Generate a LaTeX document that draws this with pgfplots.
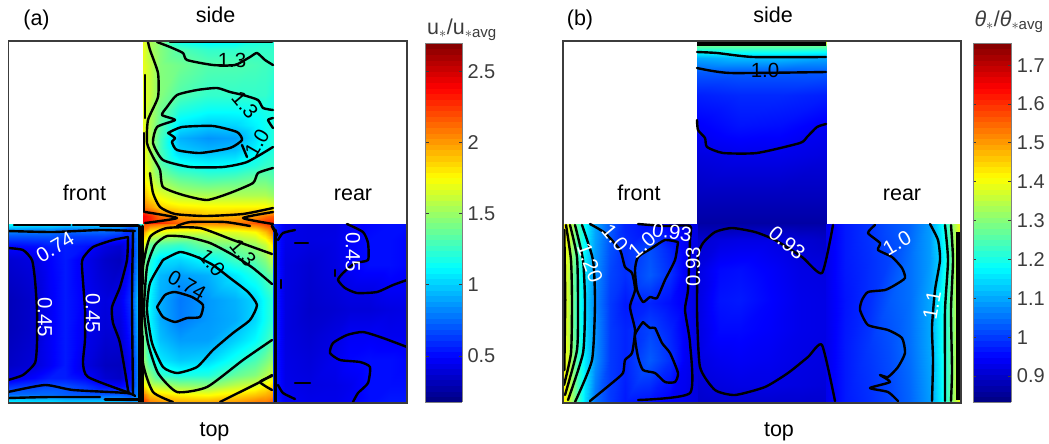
\documentclass[border=0pt]{standalone}
\usepackage{fontspec}
\setmainfont{Liberation Sans}
\usepackage{pgfplots}
\pgfplotsset{compat=1.18}
\definecolor{fr}{HTML}{3C3C3C}
\newcommand\fs{\fontsize{20}{24}\selectfont}
\newcommand\fl{\fontsize{21.5}{24}\selectfont}
\newcommand\lab[5]{\node[text=#1,rotate=#4,inner sep=0pt] at (#2pt,-#3pt) {\fontsize{20.5}{24}\selectfont #5};}
\newcommand\nam[3]{\node[inner sep=0pt] at (#1pt,-#2pt) {\fl\strut #3};}
\pgfplotsset{
 panel/.style={scale only axis,y dir=reverse,colormap/jet,xtick=\empty,ytick=\empty,axis on top,
   axis line style={fr,line width=1.5pt},clip=true,ymin=41,ymax=403,height=362pt,colorbar,
   colorbar sampled,
   every colorbar/.append style={samples=65}},
 grd/.style={surf,shader=interp,point meta=explicit,mesh/ordering=x varies,mesh/cols=#1},
 ct/.style={black,line width=2.4pt,smooth,tension=.35,line cap=round,line join=round,no markers},
 ctw/.style={black,line width=3pt,line cap=round,no markers},
 /pgfplots/table/tb/.style={row sep=crcr,header=false,x index=0,y index=1,meta index=2},
}
\begin{document}
\begin{tikzpicture}
\useasboundingbox (0,-444pt) rectangle (1049pt,0);
\begin{axis}[panel,at={(8.5pt,-403pt)},anchor=south west,width=398.5pt,xmin=8.5,xmax=407,
  point meta min=0.176,point meta max=2.70,
  colorbar style={at={(1.0452,0.9945)},anchor=north west,width=37pt,height=359pt,scale only axis,
   ytick={0.5,1,1.5,2,2.5},yticklabels={0.5,1,1.5,2,2.5},
   yticklabel style={font=\fs,text=fr,xshift=2pt},ytick style={fr,line width=.7pt},tick align=inside,major tick length=3.5pt,
   axis line style={gray,line width=.8pt}}]
% side
\addplot[grd=9] table[tb]{
143 41 1.7\\150 41 1.55\\160 41 1.45\\180 41 1.15\\208 41 1.08\\235 41 1.1\\255 41 1.18\\265 41 1.2\\273 41 1.2\\
143 50 1.7\\150 50 1.55\\160 50 1.45\\180 50 1.32\\208 50 1.25\\235 50 1.25\\255 50 1.25\\265 50 1.25\\273 50 1.25\\
143 65 1.7\\150 65 1.6\\160 65 1.45\\180 65 1.4\\208 65 1.33\\235 65 1.32\\255 65 1.3\\265 65 1.28\\273 65 1.25\\
143 95 1.7\\150 95 1.6\\160 95 1.45\\180 95 1.32\\208 95 1.25\\235 95 1.25\\255 95 1.25\\265 95 1.25\\273 95 1.2\\
143 110 1.7\\150 110 1.55\\160 110 1.4\\180 110 1.2\\208 110 1.14\\235 110 1.14\\255 110 1.16\\265 110 1.18\\273 110 1.2\\
143 125 1.7\\150 125 1.55\\160 125 1.35\\180 125 1.07\\208 125 1\\235 125 1.02\\255 125 1.1\\265 125 1.15\\273 125 1.2\\
143 138 1.75\\150 138 1.55\\160 138 1.3\\180 138 .93\\208 138 .86\\235 138 .89\\255 138 1.05\\265 138 1.15\\273 138 1.2\\
143 150 1.75\\150 150 1.55\\160 150 1.3\\180 150 1\\208 150 .94\\235 150 .97\\255 150 1.1\\265 150 1.15\\273 150 1.2\\
143 165 1.75\\150 165 1.6\\160 165 1.35\\180 165 1.17\\208 165 1.12\\235 165 1.13\\255 165 1.2\\265 165 1.25\\273 165 1.25\\
143 180 1.8\\150 180 1.65\\160 180 1.5\\180 180 1.38\\208 180 1.32\\235 180 1.35\\255 180 1.4\\265 180 1.4\\273 180 1.35\\
143 195 1.95\\150 195 1.8\\160 195 1.7\\180 195 1.58\\208 195 1.55\\235 195 1.55\\255 195 1.55\\265 195 1.55\\273 195 1.5\\
143 207 2.1\\150 207 2\\160 207 1.87\\180 207 1.8\\208 207 1.77\\235 207 1.77\\255 207 1.77\\265 207 1.77\\273 207 1.72\\
143 216 2.4\\150 216 2.3\\160 216 2.1\\180 216 1.98\\208 216 1.9\\235 216 1.95\\255 216 2\\265 216 2.1\\273 216 2.15\\
143 224 2.4\\150 224 2.35\\160 224 2.3\\180 224 2.15\\208 224 2.05\\235 224 2.1\\255 224 2.2\\265 224 2.3\\273 224 2.3\\
};
% top centre
\addplot[grd=9] table[tb]{
143 224 2.2\\150 224 2.15\\160 224 2.1\\180 224 2.03\\208 224 2\\235 224 2.03\\255 224 2.1\\265 224 2.2\\273 224 2.3\\
143 232 2\\150 232 1.75\\160 232 1.7\\180 232 1.65\\208 232 1.65\\235 232 1.68\\255 232 1.75\\265 232 1.9\\273 232 2.1\\
143 245 1.7\\150 245 1.35\\160 245 1.3\\180 245 1.25\\208 245 1.4\\235 245 1.43\\255 245 1.5\\265 245 1.6\\273 245 1.8\\
143 260 1.5\\150 260 1.2\\160 260 1.05\\180 260 1.02\\208 260 1.12\\235 260 1.27\\255 260 1.35\\265 260 1.45\\273 260 1.6\\
143 275 1.45\\150 275 1.15\\160 275 .95\\180 275 .88\\208 275 .93\\235 275 1.07\\255 275 1.2\\265 275 1.3\\273 275 1.4\\
143 300 1.4\\150 300 1.1\\160 300 .92\\180 300 .79\\208 300 .87\\235 300 .93\\255 300 1.02\\265 300 1.15\\273 300 1.25\\
143 320 1.4\\150 320 1.1\\160 320 .92\\180 320 .8\\208 320 .87\\235 320 .92\\255 320 1.03\\265 320 1.15\\273 320 1.25\\
143 340 1.45\\150 340 1.15\\160 340 .97\\180 340 .88\\208 340 .89\\235 340 1.01\\255 340 1.12\\265 340 1.22\\273 340 1.35\\
143 360 1.5\\150 360 1.25\\160 360 1.07\\180 360 .99\\208 360 1.02\\235 360 1.17\\255 360 1.3\\265 360 1.4\\273 360 1.5\\
143 375 1.6\\150 375 1.45\\160 375 1.25\\180 375 1.18\\208 375 1.2\\235 375 1.37\\255 375 1.45\\265 375 1.55\\273 375 1.65\\
143 385 1.8\\150 385 1.6\\160 385 1.55\\180 385 1.47\\208 385 1.45\\235 385 1.58\\255 385 1.65\\265 385 1.75\\273 385 1.85\\
143 395 2.1\\150 395 1.9\\160 395 1.85\\180 395 1.78\\208 395 1.75\\235 395 1.83\\255 395 1.9\\265 395 1.95\\273 395 2\\
143 403 2.3\\150 403 2.1\\160 403 2.05\\180 403 2\\208 403 2\\235 403 2.03\\255 403 2.1\\265 403 2.1\\273 403 2.2\\
};
% front
\addplot[grd=10] table[tb]{
8 224 1.15\\35 224 1.1\\50 224 1.1\\65 224 1.05\\85 224 1.05\\105 224 1.05\\120 224 1\\130 224 .9\\137 224 .9\\143 224 1.3\\
8 229 .9\\35 229 .85\\50 229 .85\\65 229 .8\\85 229 .8\\105 229 .8\\120 229 .75\\130 229 .6\\137 229 .8\\143 229 1.3\\
8 236 .7\\35 236 .7\\50 236 .7\\65 236 .65\\85 236 .65\\105 236 .65\\120 236 .6\\130 236 .6\\137 236 .8\\143 236 1.3\\
8 246 .5\\35 246 .52\\50 246 .56\\65 246 .56\\85 246 .53\\105 246 .42\\120 246 .38\\130 246 .52\\137 246 .8\\143 246 1.3\\
8 260 .38\\35 260 .42\\50 260 .49\\65 260 .55\\85 260 .45\\105 260 .36\\120 260 .33\\130 260 .5\\137 260 .82\\143 260 1.3\\
8 300 .32\\35 300 .37\\50 300 .47\\65 300 .55\\85 300 .47\\105 300 .41\\120 300 .45\\130 300 .6\\137 300 .95\\143 300 1.45\\
8 330 .32\\35 330 .37\\50 330 .47\\65 330 .55\\85 330 .45\\105 330 .39\\120 330 .4\\130 330 .55\\137 330 .9\\143 330 1.4\\
8 365 .35\\35 365 .4\\50 365 .47\\65 365 .55\\85 365 .42\\105 365 .34\\120 365 .33\\130 365 .48\\137 365 .8\\143 365 1.3\\
8 378 .42\\35 378 .5\\50 378 .56\\65 378 .56\\85 378 .5\\105 378 .38\\120 378 .35\\130 378 .5\\137 378 .8\\143 378 1.3\\
8 386 .6\\35 386 .65\\50 386 .68\\65 386 .68\\85 386 .62\\105 386 .52\\120 386 .5\\130 386 .55\\137 386 .8\\143 386 1.3\\
8 394 .75\\35 394 .75\\50 394 .75\\65 394 .72\\85 394 .7\\105 394 .7\\120 394 .7\\130 394 .65\\137 394 .8\\143 394 1.3\\
8 403 1.15\\35 403 1.1\\50 403 1.1\\65 403 1.05\\85 403 1.05\\105 403 1.05\\120 403 1\\130 403 .9\\137 403 .9\\143 403 1.3\\
};
% rear
\addplot[grd=8] table[tb]{
273 224 .6\\285 224 .45\\310 224 .42\\335 224 .42\\350 224 .47\\370 224 .5\\390 224 .52\\407 224 .52\\
273 240 .6\\285 240 .44\\310 240 .42\\335 240 .43\\350 240 .48\\370 240 .52\\390 240 .52\\407 240 .5\\
273 265 .6\\285 265 .42\\310 265 .38\\335 265 .42\\350 265 .48\\370 265 .52\\390 265 .52\\407 265 .5\\
273 290 .62\\285 290 .42\\310 290 .37\\335 290 .4\\350 290 .43\\370 290 .43\\390 290 .47\\407 290 .47\\
273 310 .62\\285 310 .42\\310 310 .36\\335 310 .38\\350 310 .4\\370 310 .4\\390 310 .42\\407 310 .43\\
273 335 .62\\285 335 .42\\310 335 .38\\335 335 .42\\350 335 .47\\370 335 .47\\390 335 .45\\407 335 .45\\
273 360 .6\\285 360 .43\\310 360 .4\\335 360 .45\\350 360 .5\\370 360 .52\\390 360 .52\\407 360 .5\\
273 385 .6\\285 385 .44\\310 385 .42\\335 385 .43\\350 385 .45\\370 385 .52\\390 385 .52\\407 385 .52\\
273 403 .6\\285 403 .47\\310 403 .44\\335 403 .44\\350 403 .47\\370 403 .52\\390 403 .55\\407 403 .55\\
};
% contours side
\addplot[ct] coordinates {(157,42)(170,47)(183,53)(187,60)(213,65)(235,65)(250,57)(257,53)(265,60)(273,65)};
\addplot[ct] coordinates {(170,42)(272,42)};
\addplot[ct] coordinates {(273,110)(263,108)(258,100)(243,95)(230,92)(217,88)(197,90)(177,95)(167,107)(162,115)(175,120)(157,127)(153,143)(163,160)(190,167)(223,167)(247,162)(273,147)};
\addplot[ct] coordinates {(273,128)(268,120)(273,118)};
\addplot[ct] coordinates {(168,133)(182,127)(213,126)(237,132)(242,140)(230,148)(200,153)(177,150)(172,142)(175,138)(168,133)};
\addplot[ct] coordinates {(242,145)(247,157)};
\addplot[ct] coordinates {(148,42)(150,50)(158,73)(158,97)(148,120)(147,143)(153,157)(160,170)(163,187)(183,195)(207,200)(230,193)(253,183)(258,173)(273,168)};
\addplot[ct] coordinates {(145,75)(145,118)};
\addplot[ct] coordinates {(144,133)(144,212)};
\addplot[ct] coordinates {(150,173)(153,193)(160,207)(175,214)(205,216)(243,214)(273,208)};
\addplot[ct] coordinates {(145,212)(177,218)(145,223)};
\addplot[ct] coordinates {(273,212)(243,218)(273,224)};
\addplot[ct] coordinates {(177,226)(190,222)(225,222)(250,226)};
% contours centre
\addplot[ct] coordinates {(157,307)(165,295)(175,292)(192,297)(203,305)(200,317)(187,318)(175,322)(163,317)(157,307)};
\addplot[ct] coordinates {(163,260)(180,252)(197,257)(213,265)(230,278)(248,292)(257,305)(250,320)(233,333)(213,350)(197,367)(177,373)(163,367)(152,343)(147,310)(150,283)(163,260)};
\addplot[ct] coordinates {(272,284)(253,268)(233,255)(210,243)(187,237)(167,236)(155,245)(147,267)(144,310)(148,343)(158,373)(177,392)(207,387)(243,360)(272,340)};
\addplot[ct] coordinates {(272,254)(233,240)(200,228)(167,228)(150,237)(143,267)(142,310)(143,363)(153,392)(173,402)};
\addplot[ct] coordinates {(272,375)(260,382)(230,397)(220,402)};
\addplot[ct] coordinates {(272,376)(260,382)(272,390)};
\addplot[ctw] coordinates {(275,230)(275,402)};
\addplot[ctw] coordinates {(272,226)(277,235)};
\addplot[ctw] coordinates {(139,226)(139,402)};
\addplot[ctw] coordinates {(142,226)(142,284)};
\addplot[ctw] coordinates {(142,336)(142,402)};
% contours front
\addplot[ct] coordinates {(8,248)(23,250)(32,260)(35,280)(37,310)(37,343)(35,363)(23,375)(8,380)};
\addplot[ct] coordinates {(128,237)(113,240)(93,247)(83,258)(82,267)(85,310)(85,340)(83,363)(88,377)(127,392)(128,390)(120,343)(113,323)(112,307)(120,287)(127,260)(128,237)};
\addplot[ct] coordinates {(8,231)(53,232)(100,230)(135,231)};
\addplot[ct] coordinates {(8,392)(45,385)(73,390)(127,393)(135,396)};
\addplot[ct] coordinates {(14,225)(70,225)};
\addplot[ct] coordinates {(73,225)(107,225)};
\addplot[ct] coordinates {(8,398)(50,397)(100,397)};
\addplot[ct] coordinates {(133,232)(132,300)(133,395)};
\addplot[ctw] coordinates {(100,225.5)(138,225.5)};
\addplot[ctw] coordinates {(105,399.5)(138,399.5)};
% contours rear
\addplot[ct] coordinates {(347,224)(363,232)(368,243)(368,260)(355,263)(343,273)(338,280)(345,288)(357,293)(377,292)(393,285)(407,280)};
\addplot[ct] coordinates {(407,347)(383,338)(363,332)(347,335)(333,343)(330,353)(340,360)(360,362)(370,367)(368,383)(358,393)(353,402)};
\addplot[ct] coordinates {(278,240)(283,233)(295,230)};
\addplot[ct] coordinates {(278,385)(283,393)(295,399)};
\addplot[ct] coordinates {(295,243)(308,243)};
\addplot[ct] coordinates {(335,270)(335,276)};
\addplot[ct] coordinates {(281,280)(281,288)};
\addplot[ct] coordinates {(295,383)(310,383)};
\end{axis}
\begin{axis}[panel,at={(563pt,-403pt)},anchor=south west,width=398pt,xmin=563,xmax=961,
  point meta min=0.833,point meta max=1.757,
  colorbar style={at={(1.03,0.9945)},anchor=north west,width=38.5pt,height=359pt,scale only axis,
   ytick={0.9,1,1.1,1.2,1.3,1.4,1.5,1.6,1.7},yticklabels={0.9,1,1.1,1.2,1.3,1.4,1.5,1.6,1.7},
   yticklabel style={font=\fs,text=fr,xshift=2pt},ytick style={fr,line width=.7pt},tick align=inside,major tick length=3.5pt,
   axis line style={gray,line width=.8pt}}]
% side
\addplot[grd=4] table[tb]{
697 41 1.42\\740 41 1.42\\780 41 1.42\\826 41 1.42\\
697 46 1.27\\740 46 1.27\\780 46 1.27\\826 46 1.27\\
697 52 1.18\\740 52 1.19\\780 52 1.19\\826 52 1.18\\
697 58 1.1\\740 58 1.12\\780 58 1.12\\826 58 1.1\\
697 72 1.03\\740 72 1.03\\780 72 1.03\\826 72 1.03\\
697 95 .975\\740 95 .985\\780 95 .985\\826 95 .975\\
697 125 .945\\740 125 .965\\780 125 .96\\826 125 .94\\
697 155 .92\\740 155 .93\\780 155 .93\\826 155 .92\\
697 195 .89\\740 195 .89\\780 195 .89\\826 195 .89\\
697 224 .865\\740 224 .865\\780 224 .865\\826 224 .865\\
};
% centre
\addplot[grd=6] table[tb]{
697 224 .87\\720 224 .87\\740 224 .87\\770 224 .87\\800 224 .87\\826 224 .87\\
697 240 .905\\720 240 .92\\740 240 .925\\770 240 .925\\800 240 .91\\826 240 .9\\
697 270 .92\\720 270 .955\\740 270 .96\\770 270 .945\\800 270 .925\\826 270 .92\\
697 300 .92\\720 300 .965\\740 300 .97\\770 300 .95\\800 300 .93\\826 300 .925\\
697 330 .92\\720 330 .955\\740 330 .955\\770 330 .945\\800 330 .93\\826 330 .925\\
697 360 .92\\720 360 .935\\740 360 .94\\770 360 .935\\800 360 .925\\826 360 .92\\
697 385 .91\\720 385 .92\\740 385 .925\\770 385 .925\\800 385 .92\\826 385 .915\\
697 403 .9\\720 403 .905\\740 403 .905\\770 403 .905\\800 403 .905\\826 403 .905\\
};
% front
\addplot[grd=12] table[tb]{
563 224 1.42\\568 224 1.38\\573 224 1.32\\578 224 1.25\\585 224 1.18\\595 224 1.1\\610 224 1.03\\625 224 .98\\650 224 .96\\670 224 .94\\685 224 .93\\697 224 .92\\
563 250 1.42\\568 250 1.37\\573 250 1.3\\578 250 1.24\\585 250 1.17\\595 250 1.09\\610 250 1.02\\625 250 .99\\650 250 1.02\\670 250 .98\\685 250 .94\\697 250 .92\\
563 275 1.41\\568 275 1.36\\573 275 1.28\\578 275 1.22\\585 275 1.15\\595 275 1.08\\610 275 1.01\\625 275 .99\\650 275 1.03\\670 275 .99\\685 275 .94\\697 275 .92\\
563 303 1.41\\568 303 1.36\\573 303 1.28\\578 303 1.21\\585 303 1.14\\595 303 1.07\\610 303 1\\625 303 .97\\650 303 .98\\670 303 .96\\685 303 .94\\697 303 .92\\
563 330 1.41\\568 330 1.36\\573 330 1.28\\578 330 1.22\\585 330 1.15\\595 330 1.08\\610 330 1\\625 330 .98\\650 330 1.01\\670 330 .98\\685 330 .94\\697 330 .92\\
563 360 1.41\\568 360 1.37\\573 360 1.3\\578 360 1.23\\585 360 1.16\\595 360 1.08\\610 360 1\\625 360 .98\\650 360 1.03\\670 360 .99\\685 360 .94\\697 360 .92\\
563 403 1.42\\568 403 1.38\\573 403 1.31\\578 403 1.24\\585 403 1.15\\595 403 1.05\\610 403 1\\625 403 .97\\650 403 .96\\670 403 .94\\685 403 .93\\697 403 .92\\
};
% rear
\addplot[grd=11] table[tb]{
826 224 .93\\845 224 .97\\870 224 .995\\890 224 1.02\\910 224 1.04\\930 224 1.09\\940 224 1.16\\948 224 1.24\\953 224 1.32\\958 224 1.38\\961 224 1.4\\
826 260 .93\\845 260 .97\\870 260 .99\\890 260 1.01\\910 260 1.05\\930 260 1.09\\940 260 1.14\\948 260 1.22\\953 260 1.3\\958 260 1.38\\961 260 1.4\\
826 300 .93\\845 300 .965\\870 300 .99\\890 300 1.03\\910 300 1.05\\930 300 1.1\\940 300 1.17\\948 300 1.24\\953 300 1.3\\958 300 1.38\\961 300 1.4\\
826 345 .93\\845 345 .97\\870 345 1\\890 345 1.02\\910 345 1.05\\930 345 1.1\\940 345 1.17\\948 345 1.24\\953 345 1.3\\958 345 1.38\\961 345 1.4\\
826 403 .93\\845 403 .97\\870 403 .99\\890 403 1.01\\910 403 1.04\\930 403 1.09\\940 403 1.16\\948 403 1.24\\953 403 1.32\\958 403 1.38\\961 403 1.4\\
};
% side contours
\addplot[black,line width=5pt,no markers] coordinates {(697,43.5)(826,43.5)};
\addplot[ct] coordinates {(697,52)(717,53)(753,57)(826,57)};
\addplot[ct] coordinates {(697,68)(730,73)(826,72)};
\addplot[ct] coordinates {(697,120)(698,130)(705,138)(707,147)(723,153)(757,153)(800,143)(807,137)(817,127)(826,124)};
% front
\addplot[ct] coordinates {(582,225)(593,260)(595,303)(592,360)(575,402)};
\addplot[ct] coordinates {(575,225)(583,260)(585,303)(583,353)(568,400)};
\addplot[ct] coordinates {(570,225)(577,257)(578,303)(577,350)(565,395)};
\addplot[ct] coordinates {(566,225)(571,260)(572,303)(571,353)(564,385)};
\addplot[ctw] coordinates {(564,230)(565,300)(564,370)};
\addplot[ct] coordinates {(590,224)(605,233)(620,250)(625,267)(632,273)(635,290)(630,307)(635,330)(632,353)(625,360)(623,373)(612,383)(590,401)};
\addplot[ct] coordinates {(678,242)(665,240)(652,248)(638,257)(635,270)(637,290)(643,302)(650,297)(657,298)(665,280)(675,260)(678,242)};
\addplot[ct] coordinates {(643,322)(635,335)(638,357)(643,370)(655,373)(665,382)(675,382)(678,373)(670,353)(662,343)(655,328)(650,328)(643,322)};
\addplot[ct] coordinates {(638,224)(665,226)(690,226)(690,240)(688,290)(685,310)(690,343)(690,393)(638,400)};
% centre
\addplot[ct] coordinates {(833,225)(822,273)(802,257)(775,240)(755,232)(732,228)(715,232)(703,243)(698,257)(697,310)(700,367)(715,390)(735,395)(765,387)(788,373)(808,357)(822,345)(835,401)};
% rear
\addplot[ct] coordinates {(875,225)(868,233)(880,243)(878,250)(892,257)(902,268)(905,278)(895,285)(885,290)(868,292)(862,300)(860,310)(868,325)(888,330)(902,338)(905,353)(898,367)(888,377)(880,375)(890,382)(870,388)(888,392)(898,401)};
\addplot[ct] coordinates {(930,224)(938,240)(940,260)(935,290)(932,327)(933,360)(932,401)};
\addplot[ct] coordinates {(945,225)(948,260)(945,310)(945,370)(945,401)};
\addplot[ct] coordinates {(951,225)(953,260)(951,310)(952,370)(951,401)};
\addplot[black,line width=5pt,no markers] coordinates {(958.5,232)(958.5,400)};
\end{axis}
% texts
\nam{36.5}{21}{(a)}{}
\nam{215.5}{18}{side}{}
\nam{84.5}{196}{front}{}
\nam{353}{196}{rear}{}
\nam{214.5}{432}{top}{}
\nam{580}{21}{(b)}{}
\nam{773}{18}{side}{}
\nam{639}{196}{front}{}
\nam{902}{196}{rear}{}
\nam{779}{432}{top}{}
\node[inner sep=0pt,text=fr] at (462pt,-30pt) {\fontsize{21.5}{24}\selectfont u$_{*}$/u$_{*\mathrm{\fontsize{17}{17}\selectfont avg}}$};
\node[inner sep=0pt,text=fr] at (1009pt,-22pt) {\fontsize{21.5}{24}\selectfont \textit{θ}$_{*}$/\textit{θ}$_{*\mathrm{\fontsize{17}{17}\selectfont avg}}$};
\lab{black}{232}{60}{0}{1.3}
\lab{black}{245}{105}{-50}{1.3}
\lab{black}{257}{143}{60}{1.0}
\lab{black}{187}{285}{-30}{0.74}
\lab{black}{212}{263}{-50}{1.0}
\lab{black}{243}{253}{-50}{1.3}
\lab{white}{55}{247}{30}{0.74}
\lab{white}{45}{317}{-90}{0.45}
\lab{white}{93}{313}{-90}{0.45}
\lab{white}{353}{252}{-90}{0.45}
\lab{black}{765}{70}{0}{1.0}
\lab{white}{590}{263}{-70}{1.20}
\lab{white}{615}{238}{-50}{1.0}
\lab{white}{642}{245}{40}{1.0}
\lab{white}{672}{232}{-8}{0.93}
\lab{white}{693}{267}{90}{0.93}
\lab{white}{787}{243}{-40}{0.93}
\lab{white}{897}{243}{30}{1.0}
\lab{white}{932}{305}{80}{1.1}
\end{tikzpicture}
\end{document}
